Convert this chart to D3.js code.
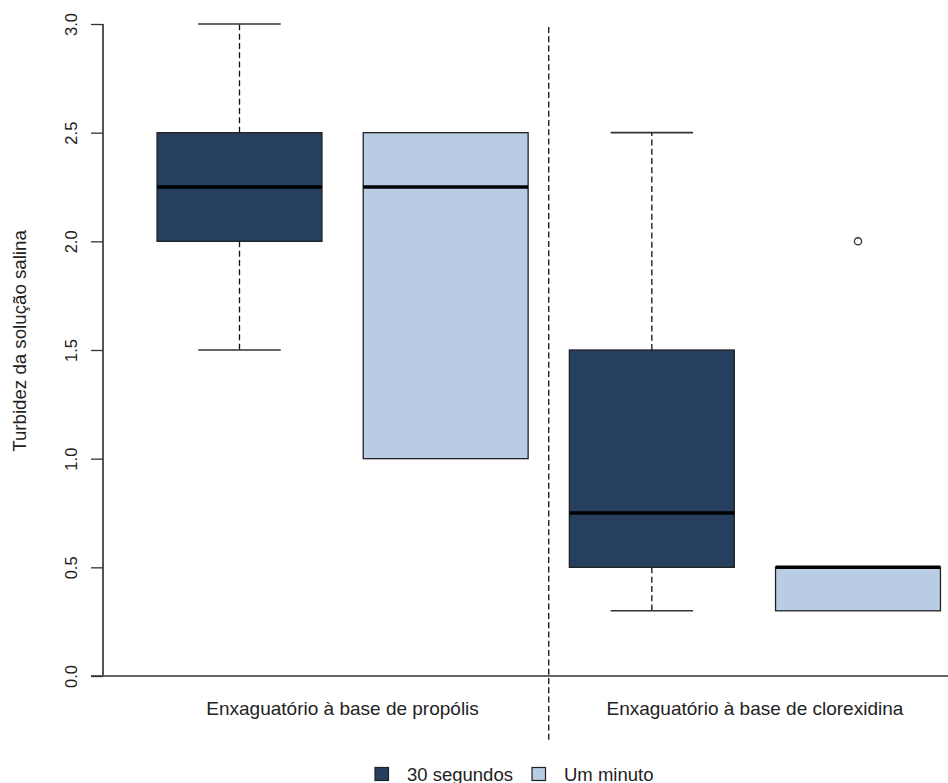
<!DOCTYPE html>
<html>
<head>
<meta charset="utf-8">
<script src="https://cdn.jsdelivr.net/npm/d3@7"></script>
<style>
  html, body { margin: 0; padding: 0; background: #fff; }
  svg { display: block; font-family: "Liberation Sans", Arial, sans-serif; }
</style>
</head>
<body>
<svg id="chart" width="948" height="783"></svg>
<script>
// Box summaries per rinse and exposure time
const groups = ["Enxaguatório à base de propólis", "Enxaguatório à base de clorexidina"];
const times = ["30 segundos", "Um minuto"];
const boxGroup = [0, 0, 1, 1];
const boxTime = [0, 1, 0, 1];
const whiskerLow = [1.5, 1.0, 0.3, 0.3];
const q1 = [2.0, 1.0, 0.5, 0.3];
const median = [2.25, 2.25, 0.75, 0.5];
const q3 = [2.5, 2.5, 1.5, 0.5];
const whiskerHigh = [3.0, 2.5, 2.5, 0.5];
const outliers = [[], [], [], [2.0]];
const yTicks = [0, 0.5, 1.0, 1.5, 2.0, 2.5, 3.0];
const yLabel = "Turbidez da solução salina";

const colors = ["#263f5e", "#b8cce4"];

const svg = d3.select("#chart");

const x = d3.scaleLinear().domain([1, 4]).range([239.5, 858]);
const y = d3.scaleLinear().domain([0, 3]).range([676, 24]);
const boxW = 0.8;   // box width in x units
const capW = 0.4;   // whisker cap width

// Horizontal reference line at zero
svg.append("line")
  .attr("x1", 91).attr("x2", 948)
  .attr("y1", y(0)).attr("y2", y(0))
  .attr("stroke", "#666").attr("stroke-width", 2);

// Y axis
const yAxis = d3.axisLeft(y).tickValues(yTicks).tickFormat(d3.format(".1f")).tickSize(12).tickPadding(0);
const ga = svg.append("g").attr("transform", "translate(103,0)").call(yAxis);
ga.select(".domain").attr("stroke", "#555").attr("stroke-width", 2).attr("d", `M0,${y(3)}V${y(0)}`);
ga.selectAll(".tick line").attr("stroke", "#333").attr("stroke-width", 1.3);
ga.selectAll(".tick text")
  .attr("x", 0).attr("dy", null)
  .attr("transform", "translate(-26,0) rotate(-90)")
  .attr("text-anchor", "middle")
  .attr("font-size", 16.5)
  .attr("fill", "#222");

// Y label
svg.append("text")
  .attr("transform", `translate(26,341) rotate(-90)`)
  .attr("text-anchor", "middle")
  .attr("font-size", 18.7)
  .attr("fill", "#222")
  .text(yLabel);

// Separator between the two rinses
svg.append("line")
  .attr("x1", x(2.5)).attr("x2", x(2.5))
  .attr("y1", 27).attr("y2", 740)
  .attr("stroke", "#111").attr("stroke-width", 1.3)
  .attr("stroke-dasharray", "6,3.3");

// Boxes
const idx = d3.range(median.length);
const gb = svg.append("g");
idx.forEach(i => {
  const cx = i + 1;
  const g = gb.append("g");
  // whiskers
  if (whiskerHigh[i] > q3[i]) {
    g.append("line").attr("x1", x(cx)).attr("x2", x(cx))
      .attr("y1", y(q3[i])).attr("y2", y(whiskerHigh[i]))
      .attr("stroke", "#111").attr("stroke-width", 1.3).attr("stroke-dasharray", "6,3.3");
    g.append("line").attr("x1", x(cx - capW / 2)).attr("x2", x(cx + capW / 2))
      .attr("y1", y(whiskerHigh[i])).attr("y2", y(whiskerHigh[i]))
      .attr("stroke", "#333").attr("stroke-width", 1.6);
  }
  if (whiskerLow[i] < q1[i]) {
    g.append("line").attr("x1", x(cx)).attr("x2", x(cx))
      .attr("y1", y(q1[i])).attr("y2", y(whiskerLow[i]))
      .attr("stroke", "#111").attr("stroke-width", 1.3).attr("stroke-dasharray", "6,3.3");
    g.append("line").attr("x1", x(cx - capW / 2)).attr("x2", x(cx + capW / 2))
      .attr("y1", y(whiskerLow[i])).attr("y2", y(whiskerLow[i]))
      .attr("stroke", "#333").attr("stroke-width", 1.6);
  }
  // box
  g.append("rect")
    .attr("x", x(cx - boxW / 2)).attr("width", x(cx + boxW / 2) - x(cx - boxW / 2))
    .attr("y", y(q3[i])).attr("height", y(q1[i]) - y(q3[i]))
    .attr("fill", colors[boxTime[i]])
    .attr("stroke", "#222").attr("stroke-width", 1.3);
  // median
  g.append("line")
    .attr("x1", x(cx - boxW / 2)).attr("x2", x(cx + boxW / 2))
    .attr("y1", y(median[i])).attr("y2", y(median[i]))
    .attr("stroke", "#000").attr("stroke-width", 3.5);
  // outliers
  outliers[i].forEach(v => {
    g.append("circle").attr("cx", x(cx)).attr("cy", y(v)).attr("r", 3.6)
      .attr("fill", "#fff").attr("stroke", "#333").attr("stroke-width", 1.3);
  });
});

// Group labels
groups.forEach((name, k) => {
  svg.append("text")
    .attr("x", x(1.5 + 2 * k)).attr("y", 715)
    .attr("text-anchor", "middle")
    .attr("font-size", 19)
    .attr("fill", "#222")
    .text(name);
});

// Legend
const legendX = [375, 532];
times.forEach((t, k) => {
  svg.append("rect")
    .attr("x", legendX[k]).attr("y", 767.5).attr("width", 13.5).attr("height", 13)
    .attr("fill", colors[k]).attr("stroke", "#222").attr("stroke-width", 1.2);
  svg.append("text")
    .attr("x", legendX[k] + 32).attr("y", 781)
    .attr("font-size", 18.5)
    .attr("fill", "#222")
    .text(t);
});
</script>
</body>
</html>
